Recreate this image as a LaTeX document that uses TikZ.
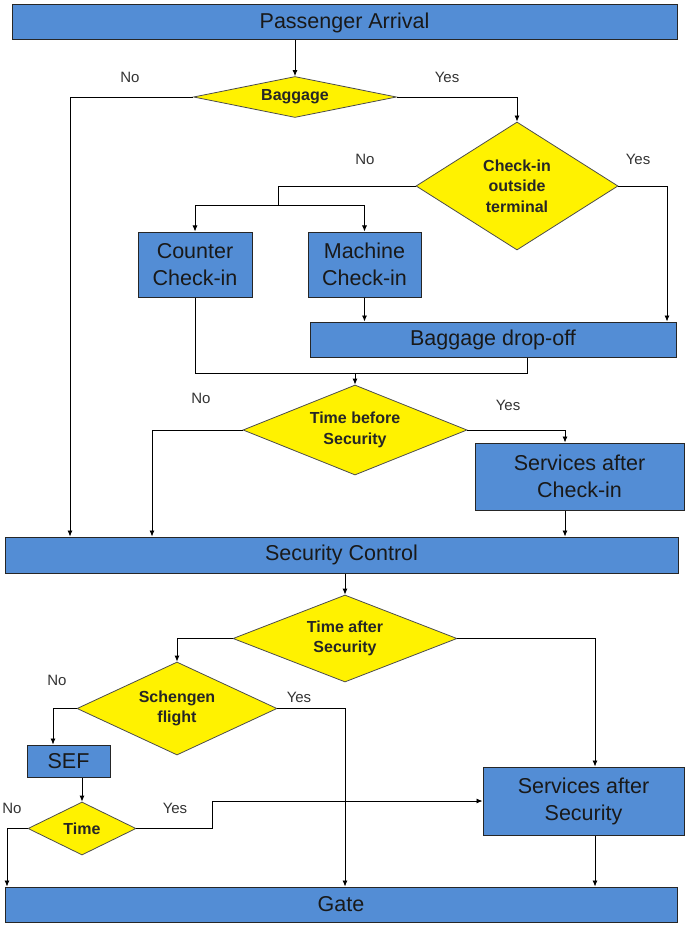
\documentclass[tikz,border=0pt]{standalone}
\usepackage{fontspec}
\setmainfont{Liberation Sans}
\usetikzlibrary{shapes.geometric,arrows.meta}
\definecolor{boxblue}{RGB}{83,141,213}
\definecolor{labelgray}{RGB}{51,51,51}
\begin{document}
\begin{tikzpicture}[x=1pt,y=-1pt,
    box/.style={draw=black!85,line width=1pt,fill=boxblue,inner sep=0pt,align=center,
      text=black!90,font=\fontsize{21.5}{27}\selectfont},
    decision/.style={diamond,draw=black!70,line width=0.8pt,fill=yellow,inner sep=0pt,
      align=center,text=black!85,font=\bfseries\fontsize{16}{20.5}\selectfont},
    answer/.style={text=labelgray,font=\fontsize{15}{17}\selectfont},
    arr/.style={-{Latex[length=6pt,width=5pt]},line width=0.8pt},
    line/.style={line width=0.8pt}]
    \useasboundingbox (0,0) rectangle (685,925);

    \node[box,minimum width=665pt,minimum height=35pt] (arrival) at (344.5,22.5) {Passenger Arrival};
    \node[decision,minimum width=203pt,minimum height=41pt,aspect=5] (bag) at (295,97) {Baggage};
    \node[decision,minimum width=202pt,minimum height=128pt,aspect=1.6] (chk) at (517,186) {Check-in\\outside\\terminal};
    \node[box,minimum width=114pt,minimum height=65pt] (counter) at (195,264.5) {Counter\\Check-in};
    \node[box,minimum width=113pt,minimum height=65pt] (machine) at (364.5,264.5) {Machine\\Check-in};
    \node[box,minimum width=366pt,minimum height=35pt] (drop) at (493,339.5) {Baggage drop-off};
    \node[decision,minimum width=224pt,minimum height=90pt,aspect=2.5] (tbs) at (355,430) {Time before\\Security};
    \node[box,minimum width=209pt,minimum height=67pt] (sac) at (579.5,476.5) {Services after\\Check-in};
    \node[box,minimum width=673pt,minimum height=36pt] (sec) at (341.5,555) {Security Control};
    \node[decision,minimum width=224pt,minimum height=87pt,aspect=2.5] (tas) at (345,638.5) {Time after\\Security};
    \node[decision,minimum width=200pt,minimum height=93pt,aspect=2.15] (sch) at (177,708.5) {Schengen\\flight};
    \node[box,minimum width=83pt,minimum height=32pt] (sef) at (68.5,761) {SEF};
    \node[decision,minimum width=108pt,minimum height=53pt,aspect=2] (tim) at (82,828.5) {Time};
    \node[box,minimum width=201pt,minimum height=68pt] (sas) at (583.5,801) {Services after\\Security};
    \node[box,minimum width=672pt,minimum height=35pt] (gate) at (341,904.5) {Gate};

    \coordinate (bagno) at (70,97);
    \coordinate (split) at (278,205);
    \coordinate (chkyes) at (667,186);
    \coordinate (dropout) at (527,373);
    \coordinate (join) at (355,373);
    \coordinate (tbsno) at (152,430);
    \coordinate (tbsyes) at (565,430);
    \coordinate (tasyes) at (595,638);
    \coordinate (schno) at (53,708);
    \coordinate (schyes) at (345,708);
    \coordinate (timno) at (7,828);
    \coordinate (timyes) at (212,828);

    \draw[arr] (arrival.south -| bag.north) -- (bag.north);
    \draw[arr] (bag.west) -| (sec.north -| bagno);
    \draw[arr] (bag.east) -| (chk.north);
    \draw[line] (chk.west) -| (split);
    \draw[arr] (split) -| (counter.north);
    \draw[arr] (split) -| (machine.north);
    \draw[arr] (chk.east) -| (drop.north -| chkyes);
    \draw[arr] (machine.south) -- (machine.south |- drop.north);
    \draw[line] (counter.south) |- (dropout) -- (drop.south -| dropout);
    \draw[arr] (join) -- (tbs.north);
    \draw[arr] (tbs.west) -| (sec.north -| tbsno);
    \draw[arr] (tbs.east) -| (sac.north -| tbsyes);
    \draw[arr] (sac.south -| tbsyes) -- (sec.north -| tbsyes);
    \draw[arr] (sec.south -| tas.north) -- (tas.north);
    \draw[arr] (tas.west) -| (sch.north);
    \draw[arr] (tas.east) -| (sas.north -| tasyes);
    \draw[arr] (sch.west) -| (sef.north -| schno);
    \draw[arr] (sch.east) -| (gate.north -| schyes);
    \draw[arr] (sef.south -| tim.north) -- (tim.north);
    \draw[arr] (tim.west) -| (gate.north -| timno);
    \draw[arr] (tim.east) -| (sas.west -| timyes) -- (sas.west);
    \draw[arr] (sas.south -| tasyes) -- (gate.north -| tasyes);

    \node[answer] (bagnolabel) at (130,77) {No};
    \node[answer] (bagyeslabel) at (447,77) {Yes};
    \node[answer] (chknolabel) at (365,159) {No};
    \node[answer] (chkyeslabel) at (638,159) {Yes};
    \node[answer] (tbsnolabel) at (201,398) {No};
    \node[answer] (tbsyeslabel) at (508,405) {Yes};
    \node[answer] (schnolabel) at (57,680) {No};
    \node[answer] (schyeslabel) at (299,697) {Yes};
    \node[answer] (timnolabel) at (12,808) {No};
    \node[answer] (timyeslabel) at (175,808) {Yes};
\end{tikzpicture}
\end{document}
